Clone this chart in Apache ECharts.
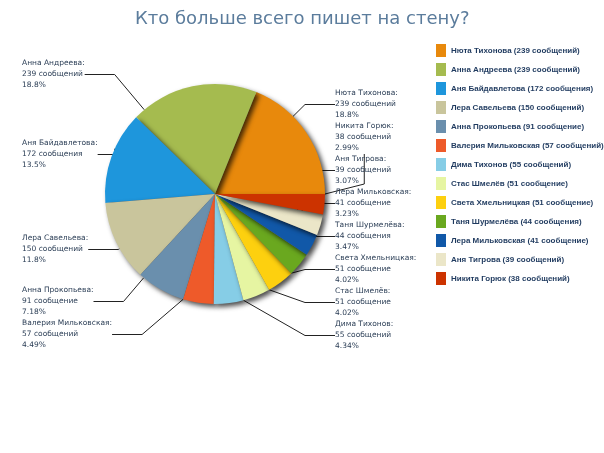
<!DOCTYPE html>
<html>
<head>
<meta charset="utf-8">
<title>Кто больше всего пишет на стену?</title>
<script src="https://cdn.jsdelivr.net/npm/echarts@6/dist/echarts.min.js"></script>
<style>html,body{margin:0;padding:0;background:#fff}</style>
</head>
<body>
<div id="main" style="width:604px;height:453px;"></div>
<script>
var names = ['Нюта Тихонова', 'Анна Андреева', 'Аня Байдавлетова', 'Лера Савельева', 'Анна Прокопьева',
	'Валерия Мильковская', 'Дима Тихонов', 'Стас Шмелёв', 'Света Хмельницкая', 'Таня Шурмелёва',
	'Лера Мильковская', 'Аня Тигрова', 'Никита Горюк'];
var counts = [239, 239, 172, 150, 91, 57, 55, 51, 51, 44, 41, 39, 38];
var words = ['сообщений', 'сообщений', 'сообщения', 'сообщений', 'сообщение', 'сообщений', 'сообщений',
	'сообщение', 'сообщение', 'сообщения', 'сообщение', 'сообщений', 'сообщений'];
var colors = ['#e8890c', '#a5bb4f', '#1e96dc', '#c9c59c', '#6a8fad', '#ee5a2a', '#86cde6',
	'#e6f5a2', '#fdd00f', '#6aa81f', '#1158a8', '#ebe6c8', '#cc3300'];

var total = counts.reduce(function (a, b) { return a + b; }, 0);
function pct(v) {
	var p = v / total * 100;
	var d = p >= 10 ? 1 : 2;
	var f = Math.pow(10, d);
	return (Math.floor(p * f) / f).toFixed(d) + '%';
}

var data = names.map(function (n, i) {
	return { name: n, value: counts[i], itemStyle: { color: colors[i] } };
});

var myChart = echarts.init(document.getElementById('main'));
myChart.setOption({
	animation: false,
	title: {
		text: 'Кто больше всего пишет на стену?',
		left: 130, top: 5,
		textStyle: { fontFamily: 'Verdana, DejaVu Sans', fontSize: 18, fontWeight: 'normal', color: '#5b7c9c' }
	},
	legend: {
		orient: 'vertical', left: 431, top: 39, itemGap: 6,
		itemWidth: 10, itemHeight: 13, icon: 'rect',
		data: names,
		formatter: function (n) {
			var i = names.indexOf(n);
			return n + ' (' + counts[i] + ' ' + words[i] + ')';
		},
		textStyle: { fontFamily: 'Liberation Sans', fontSize: 8, fontWeight: 'bold', color: '#1f3a5f' }
	},
	series: [{
		type: 'pie',
		center: [215, 194],
		radius: 110,
		startAngle: 0,
		clockwise: false,
		data: data,
		itemStyle: { shadowBlur: 5, shadowOffsetX: 3, shadowOffsetY: 3, shadowColor: 'rgba(0,0,0,0.7)' },
		label: {
			position: 'inside',
			fontFamily: 'DejaVu Sans', fontSize: 7.5, lineHeight: 11, color: '#2a3d55',
			formatter: function (p) {
				return p.name + ':\n' + p.value + ' ' + words[p.dataIndex] + '\n' + pct(p.value);
			}
		},
		labelLine: { show: true, lineStyle: { color: '#222', width: 1 } },
		labelLayout: function (p) {
			var right = [0, 12, 11, 10, 9, 8, 7, 6];
			var left = [1, 2, 3, 4, 5];
			var ri = right.indexOf(p.dataIndex);
			if (ri >= 0) {
				return { x: 335, y: 88 + ri * 33, align: 'left', verticalAlign: 'top', draggable: false };
			}
			var ly = [58, 138, 233, 285, 318];
			return { x: 22, y: ly[left.indexOf(p.dataIndex)], align: 'left', verticalAlign: 'top' };
		}
	}]
});
</script>
</body>
</html>
